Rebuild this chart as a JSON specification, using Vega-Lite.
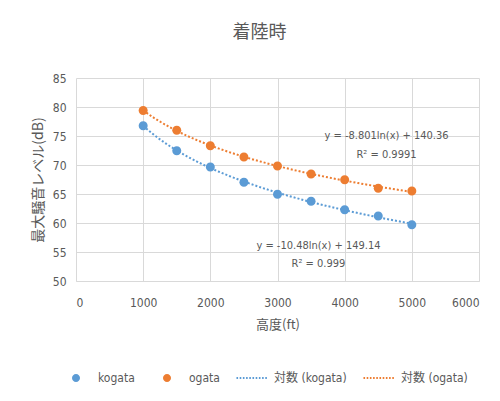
{
  "$schema": "https://vega.github.io/schema/vega-lite/v6.json",
  "width": 403,
  "height": 203,
  "autosize": {"type": "none"},
  "padding": {"left": 76, "top": 78, "right": 21, "bottom": 120},
  "background": "white",
  "title": {"text": "着陸時", "fontSize": 18, "font": "Noto Sans CJK JP", "fontWeight": "normal", "color": "#595959", "anchor": "middle", "dx": -18, "offset": 30},
  "datasets": {
    "pts": [
      {"series": "kogata", "ft": 1000, "db": 76.78},
      {"series": "kogata", "ft": 1500, "db": 72.47},
      {"series": "kogata", "ft": 2000, "db": 69.66},
      {"series": "kogata", "ft": 2500, "db": 67.01},
      {"series": "kogata", "ft": 3000, "db": 64.94},
      {"series": "kogata", "ft": 3500, "db": 63.74},
      {"series": "kogata", "ft": 4000, "db": 62.3},
      {"series": "kogata", "ft": 4500, "db": 61.21},
      {"series": "kogata", "ft": 5000, "db": 59.71},
      {"series": "ogata", "ft": 1000, "db": 79.4},
      {"series": "ogata", "ft": 1500, "db": 75.98},
      {"series": "ogata", "ft": 2000, "db": 73.33},
      {"series": "ogata", "ft": 2500, "db": 71.38},
      {"series": "ogata", "ft": 3000, "db": 69.83},
      {"series": "ogata", "ft": 3500, "db": 68.45},
      {"series": "ogata", "ft": 4000, "db": 67.47},
      {"series": "ogata", "ft": 4500, "db": 65.98},
      {"series": "ogata", "ft": 5000, "db": 65.52}
    ]
  },
  "layer": [
    {
      "data": {"name": "pts"},
      "encoding": {
        "x": {"field": "ft", "type": "quantitative", "title": "高度(ft)", "scale": {"domain": [0, 6000], "nice": false}, "axis": {"values": [0, 1000, 2000, 3000, 4000, 5000, 6000], "format": "d", "labelPadding": 16, "titlePadding": 10, "domain": true, "domainColor": "#d9d9d9", "labelOverlap": false}},
        "y": {"field": "db", "type": "quantitative", "title": "最大騒音レベル(dB)", "scale": {"domain": [50, 85], "nice": false, "zero": false}, "axis": {"values": [50, 55, 60, 65, 70, 75, 80, 85], "labelPadding": 10, "titlePadding": 7, "titleFontSize": 14, "domain": false, "labelOverlap": false, "labelBound": false}}
      },
      "layer": [
        {
          "transform": [{"filter": "datum.series === 'kogata'"}, {"regression": "db", "on": "ft", "method": "log"}],
          "mark": {"type": "line", "color": "#5B9BD5", "strokeDash": [2, 2], "strokeWidth": 2}
        },
        {
          "transform": [{"filter": "datum.series === 'ogata'"}, {"regression": "db", "on": "ft", "method": "log"}],
          "mark": {"type": "line", "color": "#ED7D31", "strokeDash": [2, 2], "strokeWidth": 2}
        },
        {
          "mark": {"type": "point", "filled": true, "opacity": 1, "size": 1296},
          "encoding": {
            "color": {
              "field": "series", "type": "nominal",
              "scale": {"domain": ["kogata", "ogata", "対数 (kogata)", "対数 (ogata)"], "range": ["#5B9BD5", "#ED7D31", "#5B9BD5", "#ED7D31"]},
              "legend": {"orient": "none", "legendX": -16, "legendY": 284, "direction": "horizontal", "title": null, "columns": 4, "symbolSize": 1024, "labelOffset": 6, "columnPadding": 16, "labelFontSize": 12, "labelColor": "#595959", "labelFont": "DejaVu Sans Condensed, Noto Sans CJK JP", "symbolStrokeWidth": 0, "symbolOpacity": 1}
            },
            "shape": {
              "field": "series", "type": "nominal",
              "scale": {"domain": ["kogata", "ogata", "対数 (kogata)", "対数 (ogata)"], "range": [
                "M-0.25,0A0.25,0.25 0 1,0 0.25,0A0.25,0.25 0 1,0 -0.25,0Z",
                "M-0.25,0A0.25,0.25 0 1,0 0.25,0A0.25,0.25 0 1,0 -0.25,0Z",
                "M-0.97,-0.07h0.1v0.14h-0.1Z M-0.77,-0.07h0.1v0.14h-0.1Z M-0.57,-0.07h0.1v0.14h-0.1Z M-0.37,-0.07h0.1v0.14h-0.1Z M-0.17,-0.07h0.1v0.14h-0.1Z M0.03,-0.07h0.1v0.14h-0.1Z M0.23,-0.07h0.1v0.14h-0.1Z M0.43,-0.07h0.1v0.14h-0.1Z M0.63,-0.07h0.1v0.14h-0.1Z M0.83,-0.07h0.1v0.14h-0.1Z",
                "M-0.97,-0.07h0.1v0.14h-0.1Z M-0.77,-0.07h0.1v0.14h-0.1Z M-0.57,-0.07h0.1v0.14h-0.1Z M-0.37,-0.07h0.1v0.14h-0.1Z M-0.17,-0.07h0.1v0.14h-0.1Z M0.03,-0.07h0.1v0.14h-0.1Z M0.23,-0.07h0.1v0.14h-0.1Z M0.43,-0.07h0.1v0.14h-0.1Z M0.63,-0.07h0.1v0.14h-0.1Z M0.83,-0.07h0.1v0.14h-0.1Z"
              ]}
            }
          }
        }
      ]
    },
    {
      "data": {"values": [{"label": "y = -8.801ln(x) + 140.36\nR² = 0.9991"}]},
      "mark": {"type": "text", "font": "DejaVu Sans Condensed", "fontSize": 11, "color": "#595959", "align": "center", "baseline": "middle", "lineBreak": "\n", "lineHeight": 19},
      "encoding": {
        "x": {"datum": 4623, "type": "quantitative", "title": "高度(ft)", "axis": {"values": [0, 1000, 2000, 3000, 4000, 5000, 6000], "format": "d", "labelPadding": 16, "titlePadding": 10, "domain": true, "domainColor": "#d9d9d9", "labelOverlap": false}},
        "y": {"datum": 75.0, "type": "quantitative", "title": "最大騒音レベル(dB)", "axis": {"values": [50, 55, 60, 65, 70, 75, 80, 85], "labelPadding": 10, "titlePadding": 7, "titleFontSize": 14, "domain": false, "labelOverlap": false, "labelBound": false}},
        "text": {"field": "label"}
      }
    },
    {
      "data": {"values": [{"label": "y = -10.48ln(x) + 149.14\nR² = 0.999"}]},
      "mark": {"type": "text", "font": "DejaVu Sans Condensed", "fontSize": 11, "color": "#595959", "align": "center", "baseline": "middle", "lineBreak": "\n", "lineHeight": 18},
      "encoding": {
        "x": {"datum": 3610, "type": "quantitative", "title": "高度(ft)", "axis": {"values": [0, 1000, 2000, 3000, 4000, 5000, 6000], "format": "d", "labelPadding": 16, "titlePadding": 10, "domain": true, "domainColor": "#d9d9d9", "labelOverlap": false}},
        "y": {"datum": 56.03, "type": "quantitative", "title": "最大騒音レベル(dB)", "axis": {"values": [50, 55, 60, 65, 70, 75, 80, 85], "labelPadding": 10, "titlePadding": 7, "titleFontSize": 14, "domain": false, "labelOverlap": false, "labelBound": false}},
        "text": {"field": "label"}
      }
    }
  ],
  "config": {
    "view": {"stroke": null},
    "font": "DejaVu Sans Condensed, Noto Sans CJK JP",
    "axis": {
      "ticks": false,
      "labelOverlap": false,
      "gridColor": "#d9d9d9",
      "gridWidth": 1,
      "labelFont": "DejaVu Sans Condensed",
      "labelFontSize": 12,
      "labelColor": "#595959",
      "titleFont": "Noto Sans CJK JP",
      "titleFontSize": 13,
      "titleFontWeight": "normal",
      "titleColor": "#595959"
    }
  }
}
